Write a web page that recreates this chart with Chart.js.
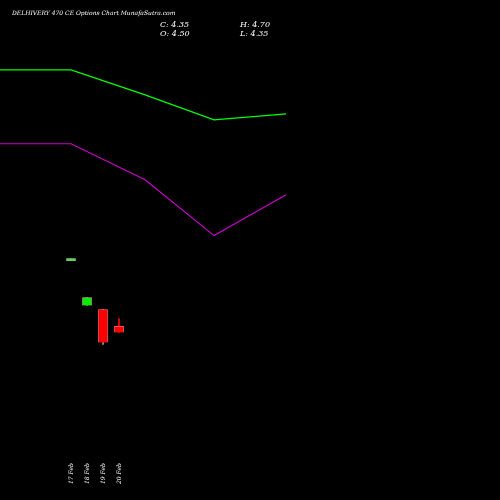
<!DOCTYPE html>
<html><head>
<script src="https://cdn.jsdelivr.net/npm/chart.js@4"></script>
<style>
body{margin:0;background:#000;}
#wrap{position:relative;width:500px;height:500px;}
.t{position:absolute;color:#fff;font-family:"DejaVu Serif","Liberation Serif",serif;font-style:italic;white-space:nowrap;}
</style></head><body>
<div id="wrap">
<canvas id="c" width="500" height="500"></canvas>
<div class="t" style="left:12px;top:9px;font-size:6px;">DELHIVERY 470  CE Options  Chart MunafaSutra.com</div>
<div class="t" style="left:160px;top:20px;font-size:8px;line-height:9px;">C: 4.35<br>O: 4.50</div>
<div class="t" style="left:240px;top:20px;font-size:8px;line-height:9px;">H: 4.70<br>L: 4.35</div>
</div>
<script>
const dates = ["17 Feb", "18 Feb", "19 Feb", "20 Feb"];
const opens = [6.15, 5.025, 4.925, 4.50];
const closes = [6.2, 5.225, 4.10, 4.35];
const highs = [6.2, 5.225, 4.925, 4.70];
const lows = [6.15, 5.025, 4.05, 4.35];
const lineX = [-4.44, 0, 4.63, 8.94, 13.44];
const greenLine = [10.925, 10.925, 10.3, 9.675, 9.825];
const magentaLine = [9.075, 9.075, 8.175, 6.775, 7.8];

const bodyColors = opens.map((o, i) => i === 0 ? "#66cc66" : (closes[i] >= o ? "#00ee00" : "#ff0000"));

new Chart(document.getElementById("c"), {
  data: {
    datasets: [
      {
        type: "line",
        data: lineX.map((x, i) => ({ x, y: greenLine[i] })),
        borderColor: "#00ff00",
        borderWidth: 1.2,
        pointRadius: 0,
        order: 0,
      },
      {
        type: "line",
        data: lineX.map((x, i) => ({ x, y: magentaLine[i] })),
        borderColor: "#cc00cc",
        borderWidth: 1.2,
        pointRadius: 0,
        order: 0,
      },
      {
        type: "bar",
        grouped: false,
        data: dates.map((d, i) => ({ x: i, y: [lows[i], highs[i]] })),
        backgroundColor: bodyColors.map((c, i) => i === 3 ? c : "#999999"),
        barThickness: 1,
        order: 2,
      },
      {
        type: "bar",
        grouped: false,
        data: dates.map((d, i) => ({ x: i, y: [opens[i], closes[i]] })),
        backgroundColor: bodyColors,
        borderColor: bodyColors.map((c, i) => i === 0 ? c : "#ff9999"),
        borderWidth: bodyColors.map((c, i) => i === 0 ? 0 : 0.5),
        barThickness: 9,
        minBarLength: 2,
        order: 1,
      },
    ],
  },
  options: {
    responsive: false,
    animation: false,
    layout: { padding: { bottom: 10 } },
    plugins: { legend: { display: false }, tooltip: { enabled: false } },
    scales: {
      x: {
        type: "linear",
        offset: false,
        min: -4.4375,
        max: 26.81,
        grid: { display: false },
        border: { display: false },
        afterBuildTicks: (axis) => {
          axis.ticks = dates.map((d, i) => ({ value: i }));
        },
        ticks: {
          autoSkip: false,
          maxRotation: 90,
          minRotation: 90,
          padding: 6,
          color: "#ffffff",
          font: { family: "DejaVu Serif", style: "italic", size: 6 },
          callback: (v) => dates[v],
        },
      },
      y: {
        display: false,
        min: 1.425,
        max: 12.675,
      },
    },
  },
});
</script>
</body></html>
